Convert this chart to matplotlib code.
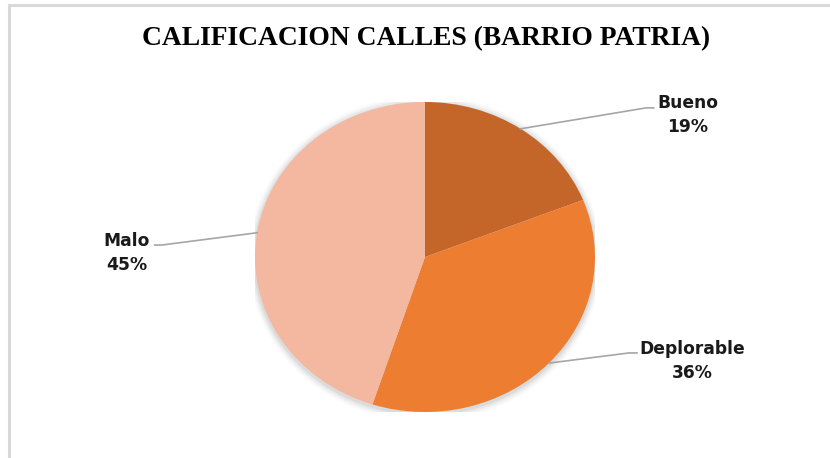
import numpy as np
import matplotlib.pyplot as plt
from matplotlib.patches import Ellipse

# Datos de la encuesta
categorias = ['Bueno', 'Deplorable', 'Malo']
porcentajes = [19, 36, 45]
colores = ['#C4652A', '#ED7D31', '#F4B7A0']

fig = plt.figure(figsize=(8.3, 4.58), dpi=100)
fig.patch.set_facecolor('white')

# Marco gris (solo arriba e izquierda)
fig.add_artist(plt.Line2D([8.5 / 830, 8.5 / 830], [0, 1 - 4.5 / 458], color='#D9D9D9', lw=2.2))
fig.add_artist(plt.Line2D([8.5 / 830, 1], [1 - 4.5 / 458, 1 - 4.5 / 458], color='#D9D9D9', lw=2.2))

fig.text(426 / 830, 1 - 39 / 458, 'CALIFICACION CALLES (BARRIO PATRIA)',
         ha='center', va='center', fontsize=19.8, fontweight='bold',
         family='Liberation Serif', color='black')

# Eje del pastel (ligeramente achatado)
ax = fig.add_axes([255 / 830, 46 / 458, 340 / 830, 310 / 458])
ax.set_xlim(-1, 1)
ax.set_ylim(-1, 1)
ax.axis('off')

# sombra suave
for i, a in enumerate([0.05, 0.04, 0.03, 0.02]):
    ax.add_patch(Ellipse((0, -0.01), 2 + 0.02 * (i + 1), 2 + 0.025 * (i + 1),
                         color='black', alpha=a, lw=0, zorder=0))

wedges, _ = ax.pie(porcentajes, colors=colores, startangle=90, counterclock=False,
                   radius=1, wedgeprops=dict(linewidth=0))
ax.set_aspect('auto')
ax.set_xlim(-1, 1)
ax.set_ylim(-1, 1)

# posiciones de etiquetas y fin de las líneas guía
etiquetas_xy = {'Bueno': (1.547, 0.916), 'Deplorable': (1.571, -0.671), 'Malo': (-1.753, 0.026)}
lineas_fin = {'Bueno': [(1.30, 0.962), (1.345, 0.962)],
              'Deplorable': [(1.20, -0.619), (1.247, -0.619)],
              'Malo': [(-1.55, 0.077), (-1.59, 0.077)]}

for w, cat, p in zip(wedges, categorias, porcentajes):
    ang = np.deg2rad((w.theta1 + w.theta2) / 2)
    x0, y0 = np.cos(ang), np.sin(ang)
    pts = [(x0, y0)] + lineas_fin[cat]
    xs, ys = zip(*pts)
    ax.plot(xs, ys, color='#A6A6A6', lw=1.2, clip_on=False)
    tx, ty = etiquetas_xy[cat]
    ax.text(tx, ty, f'{cat}\n{p}%', ha='center', va='center', fontsize=12.3,
            fontweight='bold', family='DejaVu Sans', linespacing=1.45,
            color='#1a1a1a', clip_on=False)

fig.savefig('out.png', dpi=100, facecolor='white')
